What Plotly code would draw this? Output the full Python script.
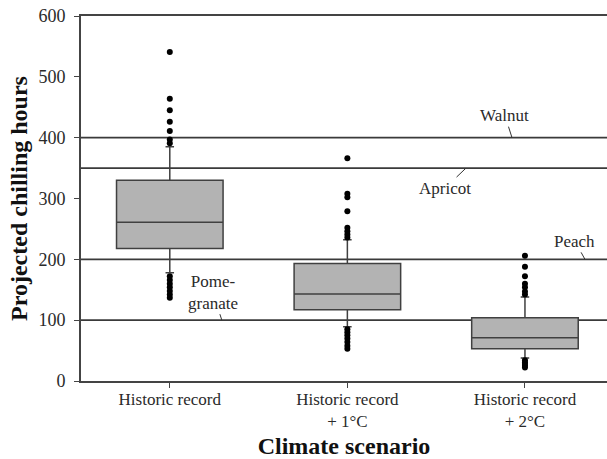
import plotly.graph_objects as go

# Climate scenarios on the x axis
scenarios = ["Historic record", "Historic record<br>+ 1°C", "Historic record<br>+ 2°C"]
positions = [0, 1, 2]

# Box statistics (chilling hours)
q1 = [218, 117, 53]
median = [261, 143, 71]
q3 = [330, 193, 104]
lower_whisker = [178, 89, 38]
upper_whisker = [385, 232, 138]

# Outlying years per scenario
outliers = [
    [541, 464, 445, 426, 411, 397, 391, 172, 166, 160, 154, 148, 142, 137],
    [366, 308, 302, 279, 252, 246, 241, 236, 85, 80, 75, 70, 64, 58, 53],
    [206, 188, 172, 160, 154, 147, 142, 34, 31, 28, 25, 22],
]

# Chilling requirements of crops
crop_names = ["Walnut", "Apricot", "Peach", "Pome-<br>granate"]
crop_hours = [400, 350, 200, 100]
label_x = [1.927, 1.668, 2.338, 0.293]
label_offset = [(-7, -22), (-21, 20), (-10, -18), (-9, -28)]

y_ticks = [0, 100, 200, 300, 400, 500, 600]

ink = "#2a2a2a"
serif = "Liberation Serif, Times New Roman, serif"

fig = go.Figure()

fig.add_trace(go.Box(
    x=positions,
    q1=q1, median=median, q3=q3,
    lowerfence=lower_whisker, upperfence=upper_whisker,
    width=0.6, whiskerwidth=0.08,
    fillcolor="#b3b3b3",
    line=dict(color="#404040", width=1.5),
    boxpoints=False,
    showlegend=False,
    hoverinfo="skip",
))

ox, oy = [], []
for p, vals in zip(positions, outliers):
    ox += [p] * len(vals)
    oy += vals
fig.add_trace(go.Scatter(
    x=ox, y=oy, mode="markers",
    marker=dict(color="black", size=6),
    showlegend=False, hoverinfo="skip",
))

for h in crop_hours:
    fig.add_shape(type="line", xref="paper", x0=0, x1=1, y0=h, y1=h,
                  line=dict(color="#3a3a3a", width=1.6), layer="below")

for name, h, lx, (dx, dy) in zip(crop_names, crop_hours, label_x, label_offset):
    fig.add_annotation(
        x=lx, y=h, text=name, showarrow=True, arrowhead=0,
        arrowwidth=1, arrowcolor="#333333", standoff=0,
        ax=dx, ay=dy, font=dict(family=serif, size=17, color=ink),
    )

fig.update_layout(
    width=607, height=459,
    margin=dict(l=81, r=0, t=16, b=78),
    paper_bgcolor="white", plot_bgcolor="white",
    font=dict(family=serif, size=18, color=ink),
    xaxis=dict(
        range=[-0.5, 2.462], automargin=False,
        tickvals=positions, ticktext=scenarios,
        tickfont=dict(size=17),
        ticks="outside", ticklen=5, tickwidth=1.2, tickcolor="#444444",
        ticklabelstandoff=-3,
        showline=True, linecolor="#444444", linewidth=1.6, mirror=True,
        showgrid=False, zeroline=False,
        title=dict(text="<b>Climate scenario</b>", font=dict(size=24, color="#111111"), standoff=13),
    ),
    yaxis=dict(
        range=[0, 600], tickvals=y_ticks, automargin=False,
        ticks="outside", ticklen=5, tickwidth=1.2, tickcolor="#444444",
        ticklabelstandoff=5,
        showline=True, linecolor="#444444", linewidth=1.6,
        showgrid=False, zeroline=False,
        title=dict(text="<b>Projected chilling hours</b>", font=dict(size=24, color="#111111"), standoff=4),
    ),
)

fig.write_html("out.html")
